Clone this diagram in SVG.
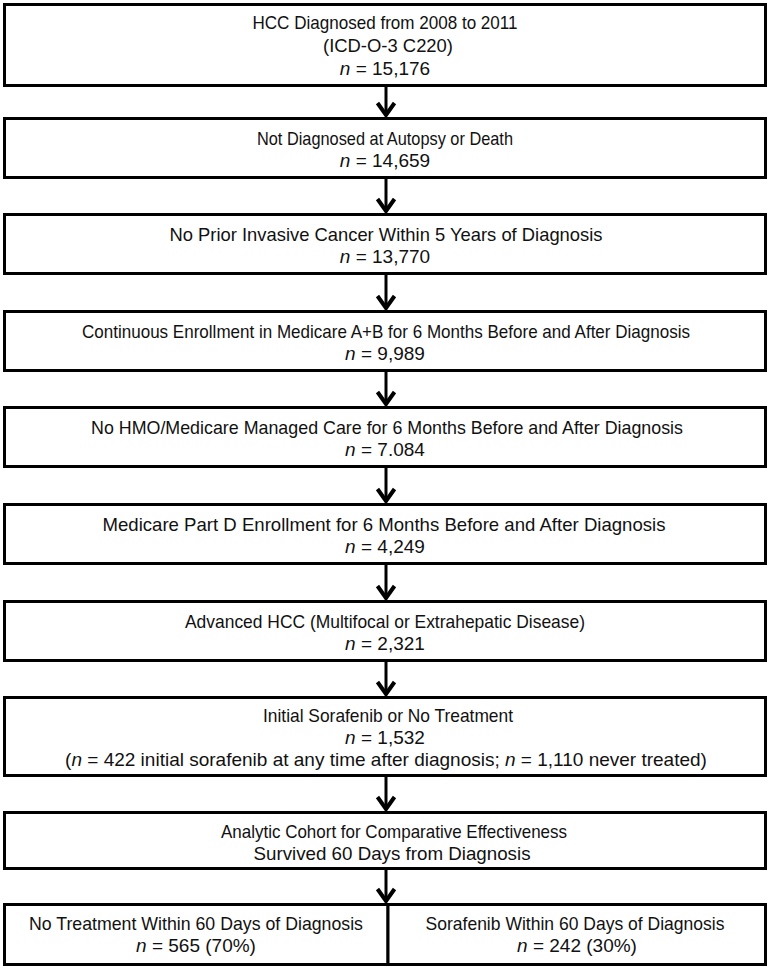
<svg xmlns="http://www.w3.org/2000/svg" width="770" height="971" viewBox="0 0 770 971">
<style>
.box{fill:#fff;stroke:#000;stroke-width:3}
.t{font-family:"Liberation Sans",Arial,sans-serif;font-size:19px;fill:#111;text-anchor:middle}
.i{font-style:italic}
.sh{stroke:#000;stroke-width:3;fill:none}
.hd{stroke:#000;stroke-width:4;fill:none;stroke-linejoin:miter}
</style>
<rect width="770" height="971" fill="#fff"/>
<g id="connectors">
<line class="sh" x1="386" y1="87" x2="386" y2="115"/><polyline class="hd" points="377.5,103 386,115 394.5,103"/>
<line class="sh" x1="386" y1="179" x2="386" y2="211"/><polyline class="hd" points="377.5,199 386,211 394.5,199"/>
<line class="sh" x1="386" y1="275" x2="386" y2="308"/><polyline class="hd" points="377.5,296 386,308 394.5,296"/>
<line class="sh" x1="386" y1="372" x2="386" y2="404"/><polyline class="hd" points="377.5,392 386,404 394.5,392"/>
<line class="sh" x1="386" y1="468" x2="386" y2="501"/><polyline class="hd" points="377.5,489 386,501 394.5,489"/>
<line class="sh" x1="386" y1="565" x2="386" y2="598"/><polyline class="hd" points="377.5,586 386,598 394.5,586"/>
<line class="sh" x1="386" y1="662" x2="386" y2="694"/><polyline class="hd" points="377.5,682 386,694 394.5,682"/>
<line class="sh" x1="386" y1="777" x2="386" y2="809"/><polyline class="hd" points="377.5,797 386,809 394.5,797"/>
<line class="sh" x1="386" y1="870" x2="386" y2="901"/><polyline class="hd" points="377.5,889 386,901 394.5,889"/>
</g>
<g id="n1"><rect class="box" x="4.5" y="4.5" width="761" height="81"/>
<text class="t" x="385" y="29" textLength="265" lengthAdjust="spacingAndGlyphs">HCC Diagnosed from 2008 to 2011</text>
<text class="t" x="388" y="52" textLength="130" lengthAdjust="spacingAndGlyphs">(ICD-O-3 C220)</text>
<text class="t" x="385" y="75"><tspan class="i">n</tspan> = 15,176</text></g>
<g id="n2"><rect class="box" x="4.5" y="118.5" width="761" height="59"/>
<text class="t" x="385" y="145" textLength="256" lengthAdjust="spacingAndGlyphs">Not Diagnosed at Autopsy or Death</text>
<text class="t" x="385" y="167"><tspan class="i">n</tspan> = 14,659</text></g>
<g id="n3"><rect class="box" x="4.5" y="214.5" width="761" height="59"/>
<text class="t" x="386" y="241" textLength="433" lengthAdjust="spacingAndGlyphs">No Prior Invasive Cancer Within 5 Years of Diagnosis</text>
<text class="t" x="385" y="263"><tspan class="i">n</tspan> = 13,770</text></g>
<g id="n4"><rect class="box" x="4.5" y="311.5" width="761" height="59"/>
<text class="t" x="386" y="338" textLength="608" lengthAdjust="spacingAndGlyphs">Continuous Enrollment in Medicare A+B for 6 Months Before and After Diagnosis</text>
<text class="t" x="385" y="360"><tspan class="i">n</tspan> = 9,989</text></g>
<g id="n5"><rect class="box" x="4.5" y="407.5" width="761" height="59"/>
<text class="t" x="387" y="434" textLength="592" lengthAdjust="spacingAndGlyphs">No HMO/Medicare Managed Care for 6 Months Before and After Diagnosis</text>
<text class="t" x="385" y="456"><tspan class="i">n</tspan> = 7.084</text></g>
<g id="n6"><rect class="box" x="4.5" y="504.5" width="761" height="59"/>
<text class="t" x="384" y="531" textLength="563" lengthAdjust="spacingAndGlyphs">Medicare Part D Enrollment for 6 Months Before and After Diagnosis</text>
<text class="t" x="385" y="553"><tspan class="i">n</tspan> = 4,249</text></g>
<g id="n7"><rect class="box" x="4.5" y="601.5" width="761" height="59"/>
<text class="t" x="385" y="628" textLength="400" lengthAdjust="spacingAndGlyphs">Advanced HCC (Multifocal or Extrahepatic Disease)</text>
<text class="t" x="385" y="650"><tspan class="i">n</tspan> = 2,321</text></g>
<g id="n8"><rect class="box" x="4.5" y="697.5" width="761" height="78"/>
<text class="t" x="388" y="722" textLength="250" lengthAdjust="spacingAndGlyphs">Initial Sorafenib or No Treatment</text>
<text class="t" x="385" y="744"><tspan class="i">n</tspan> = 1,532</text>
<text class="t" x="386" y="766">(<tspan class="i">n</tspan> = 422 initial sorafenib at any time after diagnosis; <tspan class="i">n</tspan> = 1,110 never treated)</text></g>
<g id="n9"><rect class="box" x="4.5" y="812.5" width="761" height="56"/>
<text class="t" x="394" y="838" textLength="346" lengthAdjust="spacingAndGlyphs">Analytic Cohort for Comparative Effectiveness</text>
<text class="t" x="392" y="860" textLength="277" lengthAdjust="spacingAndGlyphs">Survived 60 Days from Diagnosis</text></g>
<g id="n10"><rect class="box" x="4.5" y="904.5" width="383.5" height="60"/>
<text class="t" x="196" y="930" textLength="334" lengthAdjust="spacingAndGlyphs">No Treatment Within 60 Days of Diagnosis</text>
<text class="t" x="196" y="952"><tspan class="i">n</tspan> = 565 (70%)</text></g>
<g id="n11"><rect class="box" x="388" y="904.5" width="377.5" height="60"/>
<text class="t" x="575" y="930" textLength="299" lengthAdjust="spacingAndGlyphs">Sorafenib Within 60 Days of Diagnosis</text>
<text class="t" x="577" y="952"><tspan class="i">n</tspan> = 242 (30%)</text></g>
</svg>
